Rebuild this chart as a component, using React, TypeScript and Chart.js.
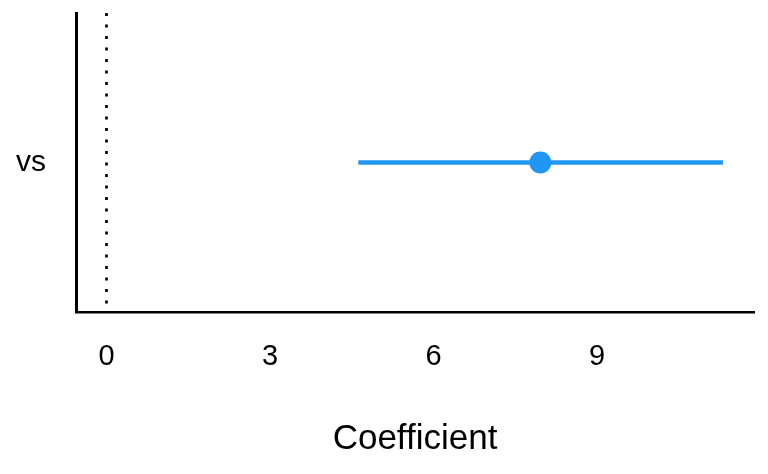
import React, { useEffect, useRef } from "react";
import { Chart, registerables } from "chart.js";

Chart.register(...registerables);

const terms = ["vs"];
const estimates = [7.96];
const ciLow = [4.62];
const ciHigh = [11.31];
const xTicks = [0, 3, 6, 9];
const xMin = -0.56;
const xMax = 11.88;
const refValue = 0;

const BLUE = "#2196F3";
const FONT = "'Liberation Sans', Arial, Helvetica, sans-serif";

export default function App() {
  const ref = useRef<HTMLCanvasElement | null>(null);

  useEffect(() => {
    document.body.style.margin = "0";
    const canvas = ref.current;
    if (!canvas) return;
    const n = terms.length;
    const yMax = n + 1;

    const datasets: any[] = [];
    datasets.push({
      type: "line",
      data: [
        { x: refValue, y: yMax },
        { x: refValue, y: 0 },
      ],
      borderColor: "#000",
      borderWidth: 2.7,
      borderDash: [3, 8.5],
      pointRadius: 0,
      fill: false,
    });
    terms.forEach((t, i) => {
      const yv = n - i;
      datasets.push({
        type: "line",
        data: [
          { x: ciLow[i], y: yv },
          { x: ciHigh[i], y: yv },
        ],
        borderColor: BLUE,
        borderWidth: 4.5,
        pointRadius: 0,
        fill: false,
      });
      datasets.push({
        type: "scatter",
        data: [{ x: estimates[i], y: yv }],
        backgroundColor: BLUE,
        borderColor: BLUE,
        borderWidth: 0,
        pointRadius: 11,
      });
    });

    const chart = new Chart(canvas, {
      type: "scatter",
      data: { datasets },
      options: {
        animation: false,
        responsive: false,
        maintainAspectRatio: false,
        layout: { padding: { left: 0, top: 13, right: 14, bottom: 0 } },
        plugins: {
          legend: { display: false },
          tooltip: { enabled: false },
        },
        scales: {
          x: {
            type: "linear",
            min: xMin,
            max: xMax,
            afterBuildTicks: (s: any) => {
              s.ticks = xTicks.map((v) => ({ value: v }));
            },
            afterFit: (s: any) => {
              s.height = 162;
              s.paddingLeft = 0;
              s.paddingRight = 0;
            },
            grid: { display: false },
            border: { display: true, color: "#000", width: 2.6 },
            ticks: {
              color: "#000",
              font: { family: FONT, size: 29 },
              padding: 20,
              maxRotation: 0,
              autoSkip: false,
            },
            title: {
              display: true,
              text: "Coefficient",
              color: "#000",
              font: { family: FONT, size: 35 },
              padding: { top: 0, bottom: 14 },
            },
          },
          y: {
            type: "linear",
            min: 0,
            max: yMax,
            afterBuildTicks: (s: any) => {
              s.ticks = terms.map((_, i) => ({ value: n - i }));
            },
            afterFit: (s: any) => {
              s.width = 76;
              s.paddingTop = 0;
              s.paddingBottom = 0;
            },
            grid: { display: false },
            border: { display: true, color: "#000", width: 3 },
            ticks: {
              color: "#000",
              font: { family: FONT, size: 30 },
              padding: 22,
              autoSkip: false,
              callback: (v: any) => {
                const idx = n - Number(v);
                return terms[idx] ?? "";
              },
            },
          },
        },
      },
    } as any);

    return () => chart.destroy();
  }, []);

  return (
    <div style={{ position: "absolute", left: 0, top: 0, width: 768, height: 474 }}>
      <canvas ref={ref} width={768} height={474} style={{ width: 768, height: 474 }} />
    </div>
  );
}
